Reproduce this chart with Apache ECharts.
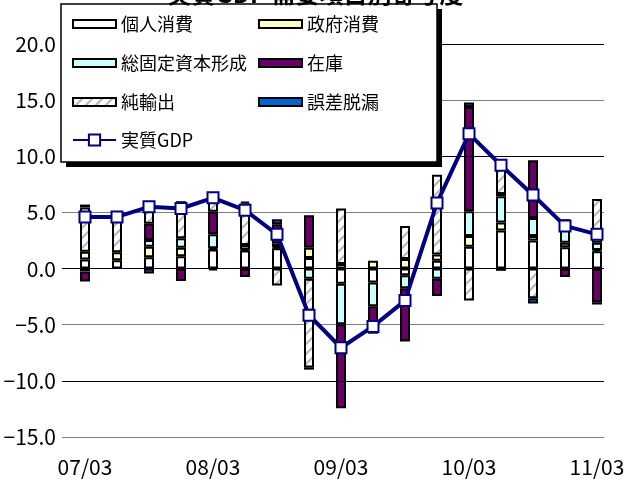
<!DOCTYPE html>
<html>
<head>
<meta charset="utf-8">
<script src="https://cdn.jsdelivr.net/npm/echarts@6/dist/echarts.min.js"></script>
<style>
  html, body { margin: 0; padding: 0; background: #fff; }
  #chart { width: 631px; height: 480px; }
</style>
</head>
<body>
<div id="chart"></div>
<script>
// Quarters (year/month)
const quarters = ['07/03','07/06','07/09','07/12','08/03','08/06','08/09','08/12',
                  '09/03','09/06','09/09','09/12','10/03','10/06','10/09','10/12','11/03'];

// Contributions to real GDP growth (percentage points)
const privateConsumption    = [0.8, 0.75, 1.0, 1.1, 1.7, 1.6, 1.8, 0.95, -1.35, -1.25, -0.6, 0.7, 1.95, 3.4, 2.5, 1.9, 1.55];
const governmentConsumption = [0.7, 0.7, 0.95, 0.75, 0.1, 0.1, 0.1, 0.9, 0.4, 0.7, 0.85, 0.55, 0.95, 0.7, 0.4, 0.4, 0.1];
const fixedCapital          = [-0.25, 0, 0.6, 0.85, 1.25, 0.4, 0.3, -0.9, -3.6, -2.1, -1.15, -0.9, 2.2, 2.35, 1.6, 2.1, 0.65];
const inventory             = [-0.9, 0, 1.45, -1.1, 2.0, -0.75, 1.75, 2.9, -7.5, -2.2, -4.75, -1.55, 9.3, 0.2, 5.15, -0.75, -3.0];
const netExports            = [3.95, 3.6, 1.2, 3.1, 1.1, 3.7, -1.5, -7.9, 4.95, -0.25, 2.95, 7.1, -2.85, 2.7, -2.65, 0, 3.9];
const discrepancy           = [0.25, 0, -0.45, 0.2, -0.15, 0.15, 0.45, -0.2, 0, 0, 0, 0, 0.4, -0.2, -0.45, 0, -0.2];
// Real GDP growth (%)
const realGDP               = [4.6, 4.6, 5.5, 5.35, 6.3, 5.2, 3.05, -4.15, -7.05, -5.15, -2.85, 5.85, 12.0, 9.2, 6.55, 3.8, 3.05];

// Y axis range and the heavier reference lines
const yMin = -15, yMax = 20, yStep = 5;
const majorLines = [-10, 0, 10, 20];

// Diagonal hatch used for net exports
function hatchPattern() {
  const c = document.createElement('canvas');
  c.width = 10; c.height = 10;
  const g = c.getContext('2d');
  g.fillStyle = '#ffffff';
  g.fillRect(0, 0, 10, 10);
  g.strokeStyle = '#b8b8b8';
  g.lineWidth = 2.2;
  g.beginPath();
  g.moveTo(-1, 11); g.lineTo(11, -1);
  g.moveTo(-3, 3); g.lineTo(3, -3);
  g.moveTo(7, 13); g.lineTo(13, 7);
  g.stroke();
  return c;
}

const FONT = '"Noto Sans CJK JP", "Noto Sans", sans-serif';

const barDefs = [
  { name: '個人消費', data: privateConsumption, color: '#ffffff' },
  { name: '政府消費', data: governmentConsumption, color: '#ffffc6' },
  { name: '総固定資本形成', data: fixedCapital, color: '#ccffff' },
  { name: '在庫', data: inventory, color: '#660066' },
  { name: '純輸出', data: netExports, color: { image: hatchPattern(), repeat: 'repeat' } },
  { name: '誤差脱漏', data: discrepancy, color: '#0066cc' }
];

const series = [{
  // heavier horizontal rules at multiples of 10
  type: 'line',
  xAxisIndex: 0,
  yAxisIndex: 0,
  data: [],
  z: 1,
  silent: true,
  markLine: {
    silent: true,
    symbol: 'none',
    animation: false,
    label: { show: false },
    lineStyle: { color: '#000', width: 1, type: 'solid' },
    data: majorLines.map(v => ({ yAxis: v }))
  }
}];

barDefs.forEach(d => series.push({
  name: d.name,
  type: 'bar',
  stack: 'contrib',
  xAxisIndex: 1,
  yAxisIndex: 1,
  barWidth: 10,
  z: 3,
  data: d.data.map(v => (v === 0 ? null : v)),
  itemStyle: { color: d.color, borderColor: '#000', borderWidth: 2 },
  emphasis: { disabled: true }
}));

series.push({
  name: '実質GDP',
  type: 'line',
  xAxisIndex: 1,
  yAxisIndex: 1,
  data: realGDP,
  z: 5,
  symbol: 'rect',
  symbolSize: 11,
  lineStyle: { color: '#000080', width: 4 },
  itemStyle: { color: '#ffffff', borderColor: '#000080', borderWidth: 2 },
  emphasis: { disabled: true }
});

const legendBase = {
  orient: 'vertical',
  selectedMode: false,
  padding: 0,
  itemWidth: 43,
  itemHeight: 8,
  itemGap: 19,
  icon: 'rect',
  z: 20,
  textStyle: { fontFamily: FONT, fontSize: 18, lineHeight: 20, color: '#000' }
};

const chart = echarts.init(document.getElementById('chart'), null, { renderer: 'canvas' });
chart.setOption({
  animation: false,
  backgroundColor: '#ffffff',
  title: {
    text: '実質GDP 需要項目別寄与度',
    left: 'center',
    top: -23,
    z: 12,
    textStyle: { fontFamily: FONT, fontSize: 24, fontWeight: 'bold', color: '#000' }
  },
  graphic: {
    elements: [
      { type: 'rect', z: 10, shape: { x: 66, y: 9, width: 376, height: 158 }, style: { fill: '#000' } },
      { type: 'rect', z: 11, shape: { x: 61, y: 4, width: 376, height: 158 },
        style: { fill: '#fff', stroke: '#000', lineWidth: 1.5 } }
    ]
  },
  legend: [
    Object.assign({}, legendBase, { left: 72, top: 14, data: ['個人消費', '総固定資本形成', '純輸出'] }),
    Object.assign({}, legendBase, { left: 258, top: 14, data: ['政府消費', '在庫', '誤差脱漏'] }),
    Object.assign({}, legendBase, { left: 72, top: 130, itemHeight: 14, icon: null, data: ['実質GDP'] })
  ],
  grid: [
    { left: 62, right: 27, top: 44, bottom: 43 },
    { left: 69, right: 18, top: 44, bottom: 43 }
  ],
  xAxis: [
    { type: 'value', gridIndex: 0, min: 0, max: 1, show: false },
    {
      type: 'category',
      gridIndex: 1,
      data: quarters,
      axisLine: { show: false },
      axisTick: { show: false },
      splitLine: { show: false },
      axisLabel: { interval: 3, margin: 20, fontFamily: FONT, fontSize: 21, color: '#000' }
    }
  ],
  yAxis: [
    {
      type: 'value',
      gridIndex: 0,
      min: yMin,
      max: yMax,
      interval: yStep,
      axisLine: { show: false },
      axisTick: { show: false },
      axisLabel: {
        margin: 6,
        fontFamily: FONT,
        fontSize: 21,
        color: '#000',
        formatter: v => v.toFixed(1).replace('-', '\u2212')
      },
      splitLine: { lineStyle: { color: '#808080', width: 1 } }
    },
    { type: 'value', gridIndex: 1, min: yMin, max: yMax, interval: yStep, show: false, splitLine: { show: false } }
  ],
  series: series
});
</script>
</body>
</html>
